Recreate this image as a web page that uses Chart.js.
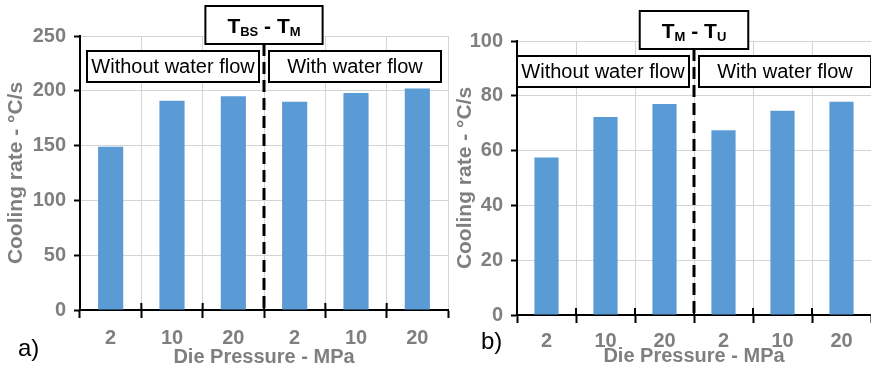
<!DOCTYPE html>
<html>
<head>
<meta charset="utf-8">
<script src="https://cdn.jsdelivr.net/npm/chart.js@4/dist/chart.umd.min.js"></script>
<style>
  body { margin: 0; background: #fff; width: 871px; height: 370px; overflow: hidden; position: relative; font-family: 'Liberation Sans', Arial, sans-serif; }
  .wrap { position: absolute; top: 0; height: 370px; }
  #wrapA { left: 0; width: 450px; }
  #wrapB { left: 450px; width: 421px; }
  .tag { position: absolute; font-size: 24px; line-height: 24px; color: #000; }
</style>
</head>
<body>
<div class="wrap" id="wrapA"><canvas id="chartA"></canvas></div>
<div class="wrap" id="wrapB"><canvas id="chartB"></canvas></div>
<div class="tag" style="left:18px; top:336px">a)</div>
<div class="tag" style="left:481px; top:329px">b)</div>

<script>
// die pressure (MPa) for each bar, first three without water flow, last three with
var pressures = ['2', '10', '20', '2', '10', '20'];
var groups = ['Without water flow', 'With water flow'];

// cooling rate (°C/s) between T_BS and T_M
var rateBsM = [149, 191, 195, 190, 198, 202];
// cooling rate (°C/s) between T_M and T_U
var rateMU = [57.5, 72.3, 77, 67.4, 74.5, 77.8];

// y axis ticks
var yTicksA = { max: 250, step: 50 };
var yTicksB = { max: 100, step: 20 };

// box titles, [text, isSubscript]
var titleA = [['T', 0], ['BS', 1], [' - T', 0], ['M', 1]];
var titleB = [['T', 0], ['M', 1], [' - T', 0], ['U', 1]];

var fam = "'Liberation Sans', Arial, sans-serif";
var grey = '#7f7f7f';
var gridGrey = '#d4d4d4';
var barBlue = '#5b9bd5';

Chart.defaults.font.family = fam;

function groupBoxes(titleParts) {
  return {
    id: 'groupBoxes',
    afterDraw: function(chart) {
      var ctx = chart.ctx;
      var area = chart.chartArea;
      var x = chart.scales.x;
      var midX = (x.getPixelForValue(2) + x.getPixelForValue(3)) / 2;
      var top = Math.round(area.top);
      ctx.save();

      // tick marks poking up from the x axis
      ctx.strokeStyle = '#000';
      ctx.lineWidth = 2;
      for (var i = 1; i < pressures.length; i++) {
        var bx = (x.getPixelForValue(i - 1) + x.getPixelForValue(i)) / 2;
        ctx.beginPath();
        ctx.moveTo(bx, area.bottom - 7);
        ctx.lineTo(bx, area.bottom);
        ctx.stroke();
      }

      // dashed divider
      ctx.lineWidth = 3;
      ctx.setLineDash([12, 6]);
      ctx.beginPath();
      ctx.moveTo(midX, top + 8);
      ctx.lineTo(midX, area.bottom);
      ctx.stroke();
      ctx.setLineDash([]);

      // title box
      var mainFont = 'bold 21px ' + fam;
      var subFont = 'bold 13px ' + fam;
      var w = 0;
      titleParts.forEach(function(p) {
        ctx.font = p[1] ? subFont : mainFont;
        w += ctx.measureText(p[0]).width;
      });
      var bw = w + 44;
      ctx.lineWidth = 2;
      ctx.fillStyle = '#fff';
      ctx.fillRect(midX - bw / 2, top - 30, bw, 38);
      ctx.strokeRect(midX - bw / 2, top - 30, bw, 38);
      ctx.fillStyle = '#000';
      ctx.textAlign = 'left';
      ctx.textBaseline = 'alphabetic';
      var tx = midX - w / 2;
      titleParts.forEach(function(p) {
        ctx.font = p[1] ? subFont : mainFont;
        ctx.fillText(p[0], tx, top - 3 + (p[1] ? 3 : 0));
        tx += ctx.measureText(p[0]).width;
      });

      // group boxes
      var gw = 172;
      var lefts = [midX - 5 - gw, midX + 5];
      ctx.font = '20px ' + fam;
      ctx.textAlign = 'center';
      for (var g = 0; g < groups.length; g++) {
        ctx.fillStyle = '#fff';
        ctx.fillRect(lefts[g], top + 15, gw, 31);
        ctx.strokeRect(lefts[g], top + 15, gw, 31);
        ctx.fillStyle = '#000';
        ctx.fillText(groups[g], lefts[g] + gw / 2, top + 37);
      }
      ctx.restore();
    }
  };
}

function makeChart(id, values, yTicks, title, lay) {
  var ctx = document.getElementById(id);
  return new Chart(ctx, {
    type: 'bar',
    data: {
      labels: pressures,
      datasets: [{
        data: values,
        backgroundColor: barBlue,
        categoryPercentage: 1,
        barPercentage: 0.41
      }]
    },
    options: {
      animation: false,
      responsive: true,
      maintainAspectRatio: false,
      layout: { padding: { top: lay.top, right: lay.right, left: 0, bottom: 0 } },
      plugins: { legend: { display: false }, tooltip: { enabled: false } },
      scales: {
        x: {
          offset: true,
          grid: { offset: true, color: gridGrey, tickColor: '#000', tickWidth: 2, tickLength: 8 },
          border: { color: '#000', width: 2 },
          ticks: { color: grey, font: { size: 20, weight: 'bold' }, padding: lay.xPad, maxRotation: 0, autoSkip: false },
          title: { display: true, text: 'Die Pressure - MPa', color: grey, font: { size: 20, weight: 'bold' }, padding: { top: 0, bottom: lay.xTitlePad } },
          afterFit: function(s) { s.height = lay.xHeight; }
        },
        y: {
          min: 0,
          max: yTicks.max,
          grid: { color: gridGrey, tickColor: '#000', tickWidth: 2, tickLength: 6 },
          border: { color: '#000', width: 2 },
          ticks: { stepSize: yTicks.step, color: grey, font: { size: 20, weight: 'bold' }, padding: 8 },
          title: { display: true, text: 'Cooling rate - °C/s', color: grey, font: { size: 21, weight: 'bold' }, padding: { top: lay.yTitlePad, bottom: 0 } },
          afterFit: function(s) { s.width = lay.yWidth; }
        }
      }
    },
    plugins: [groupBoxes(title)]
  });
}

window.onload = function() {
  makeChart('chartA', rateBsM, yTicksA, titleA,
    { top: 36, right: 2, xHeight: 60, yWidth: 80, xPad: 8, xTitlePad: 1, yTitlePad: 4 });
  makeChart('chartB', rateMU, yTicksB, titleB,
    { top: 41, right: 0, xHeight: 55, yWidth: 67, xPad: 6, xTitlePad: 2, yTitlePad: 3 });
};
</script>
</body>
</html>
